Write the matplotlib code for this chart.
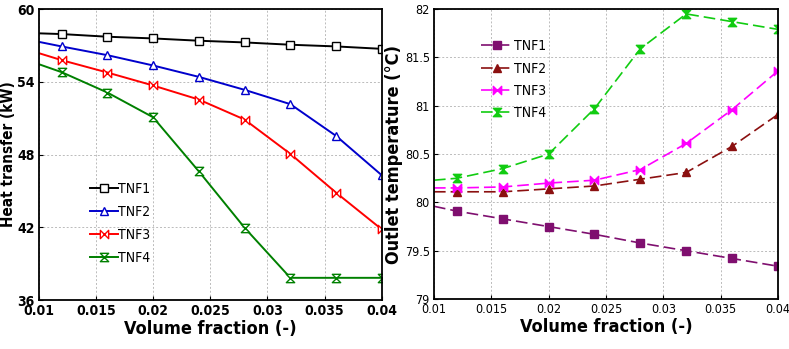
import numpy as np
import matplotlib.pyplot as plt
from matplotlib.path import Path

plt.rcParams['font.family'] = ['DejaVu Sans']
plt.rcParams['font.stretch'] = 'condensed'

vf = [0.01, 0.012, 0.016, 0.02, 0.024, 0.028, 0.032, 0.036, 0.04]

# heat transfer (kW)
q_tnf1 = [58.0, 57.94, 57.72, 57.58, 57.39, 57.25, 57.06, 56.92, 56.72]
q_tnf2 = [57.30, 56.92, 56.20, 55.35, 54.41, 53.34, 52.16, 49.54, 46.29]
q_tnf3 = [56.37, 55.79, 54.77, 53.70, 52.54, 50.89, 48.06, 44.86, 41.83]
q_tnf4 = [55.46, 54.80, 53.12, 51.08, 46.62, 41.97, 37.84, 37.84, 37.84]

# outlet temperature (C)
t_tnf1 = [79.96, 79.91, 79.83, 79.75, 79.67, 79.58, 79.50, 79.42, 79.34]
t_tnf2 = [80.11, 80.11, 80.11, 80.14, 80.17, 80.24, 80.31, 80.58, 80.91]
t_tnf3 = [80.15, 80.15, 80.16, 80.20, 80.23, 80.34, 80.61, 80.96, 81.36]
t_tnf4 = [80.23, 80.25, 80.35, 80.50, 80.97, 81.59, 81.95, 81.87, 81.79]

labels = ['TNF1', 'TNF2', 'TNF3', 'TNF4']

# custom markers
bowtie = Path([(-1, -1), (-1, 1), (1, -1), (1, 1), (-1, -1)],
              [Path.MOVETO, Path.LINETO, Path.LINETO, Path.LINETO, Path.CLOSEPOLY])
hourglass = Path([(-1, 1), (1, 1), (-1, -1), (1, -1), (-1, 1)],
                 [Path.MOVETO, Path.LINETO, Path.LINETO, Path.LINETO, Path.CLOSEPOLY])

fig = plt.figure(figsize=(7.89, 3.49), dpi=100)
ax1 = fig.add_axes([0.049, 0.140, 0.435, 0.834])
ax2 = fig.add_axes([0.550, 0.143, 0.436, 0.831])

# left panel
left_cols = ['black', '#0000cc', '#ff0000', '#008000']
left_mk = ['s', '^', bowtie, hourglass]
for y, c, m, lab in zip([q_tnf1, q_tnf2, q_tnf3, q_tnf4], left_cols, left_mk, labels):
    ax1.plot(vf, y, color=c, lw=1.4, marker=m, ms=6, mfc='white', mec=c, mew=1.0,
             markevery=slice(1, None), label=lab)
ax1.set_xlim(0.01, 0.04)
ax1.set_ylim(36, 60)
ax1.set_yticks([36, 42, 48, 54, 60])
ax1.set_xticks([0.01, 0.015, 0.02, 0.025, 0.03, 0.035, 0.04])
ax1.set_xticklabels(['0.01', '0.015', '0.02', '0.025', '0.03', '0.035', '0.04'])
ax1.set_xlabel('Volume fraction (-)', fontsize=13, fontweight='bold', labelpad=1)
ax1.set_ylabel('Heat transfer (kW)', fontsize=11, fontweight='bold')
ax1.yaxis.set_label_coords(-0.066, 0.5)
ax1.tick_params(labelsize=10)
for t in ax1.get_xticklabels() + ax1.get_yticklabels():
    t.set_fontweight('bold')
ax1.legend(loc='upper left', bbox_to_anchor=(0.13, 0.43), frameon=False, fontsize=10,
           handlelength=2.0, handletextpad=0.0, labelspacing=0.65, borderpad=0)

# right panel
right_cols = ['#7f0f6f', '#8b1010', '#ff00ff', '#11cc11']
right_mk = ['s', '^', bowtie, hourglass]
for y, c, m, lab in zip([t_tnf1, t_tnf2, t_tnf3, t_tnf4], right_cols, right_mk, labels):
    ax2.plot(vf, y, color=c, lw=1.2, ls=(0, (7, 3)), marker=m, ms=6, mfc=c, mec=c,
             markevery=slice(1, None), label=lab)
ax2.set_xlim(0.01, 0.04)
ax2.set_ylim(79, 82)
ax2.set_yticks([79, 79.5, 80, 80.5, 81, 81.5, 82])
ax2.set_yticklabels(['79', '79.5', '80', '80.5', '81', '81.5', '82'])
ax2.set_xticks([0.01, 0.015, 0.02, 0.025, 0.03, 0.035, 0.04])
ax2.set_xticklabels(['0.01', '0.015', '0.02', '0.025', '0.03', '0.035', '0.04'])
ax2.set_xlabel('Volume fraction (-)', fontsize=13, fontweight='bold', labelpad=1)
ax2.set_ylabel('Outlet temperature (\u00b0C)', fontsize=13, fontweight='bold', labelpad=1)
ax2.tick_params(labelsize=9)
ax2.legend(loc='upper left', bbox_to_anchor=(0.116, 0.92), frameon=False, fontsize=10,
           handlelength=2.4, handletextpad=0.0, labelspacing=0.6, borderpad=0)

for ax in (ax1, ax2):
    ax.grid(True, ls=(0, (2, 2)), color='#bbbbbb', lw=0.7)
    for s in ax.spines.values():
        s.set_linewidth(1.3)
    ax.tick_params(direction='in', length=3, pad=3)

fig.savefig('out.png', dpi=100)
